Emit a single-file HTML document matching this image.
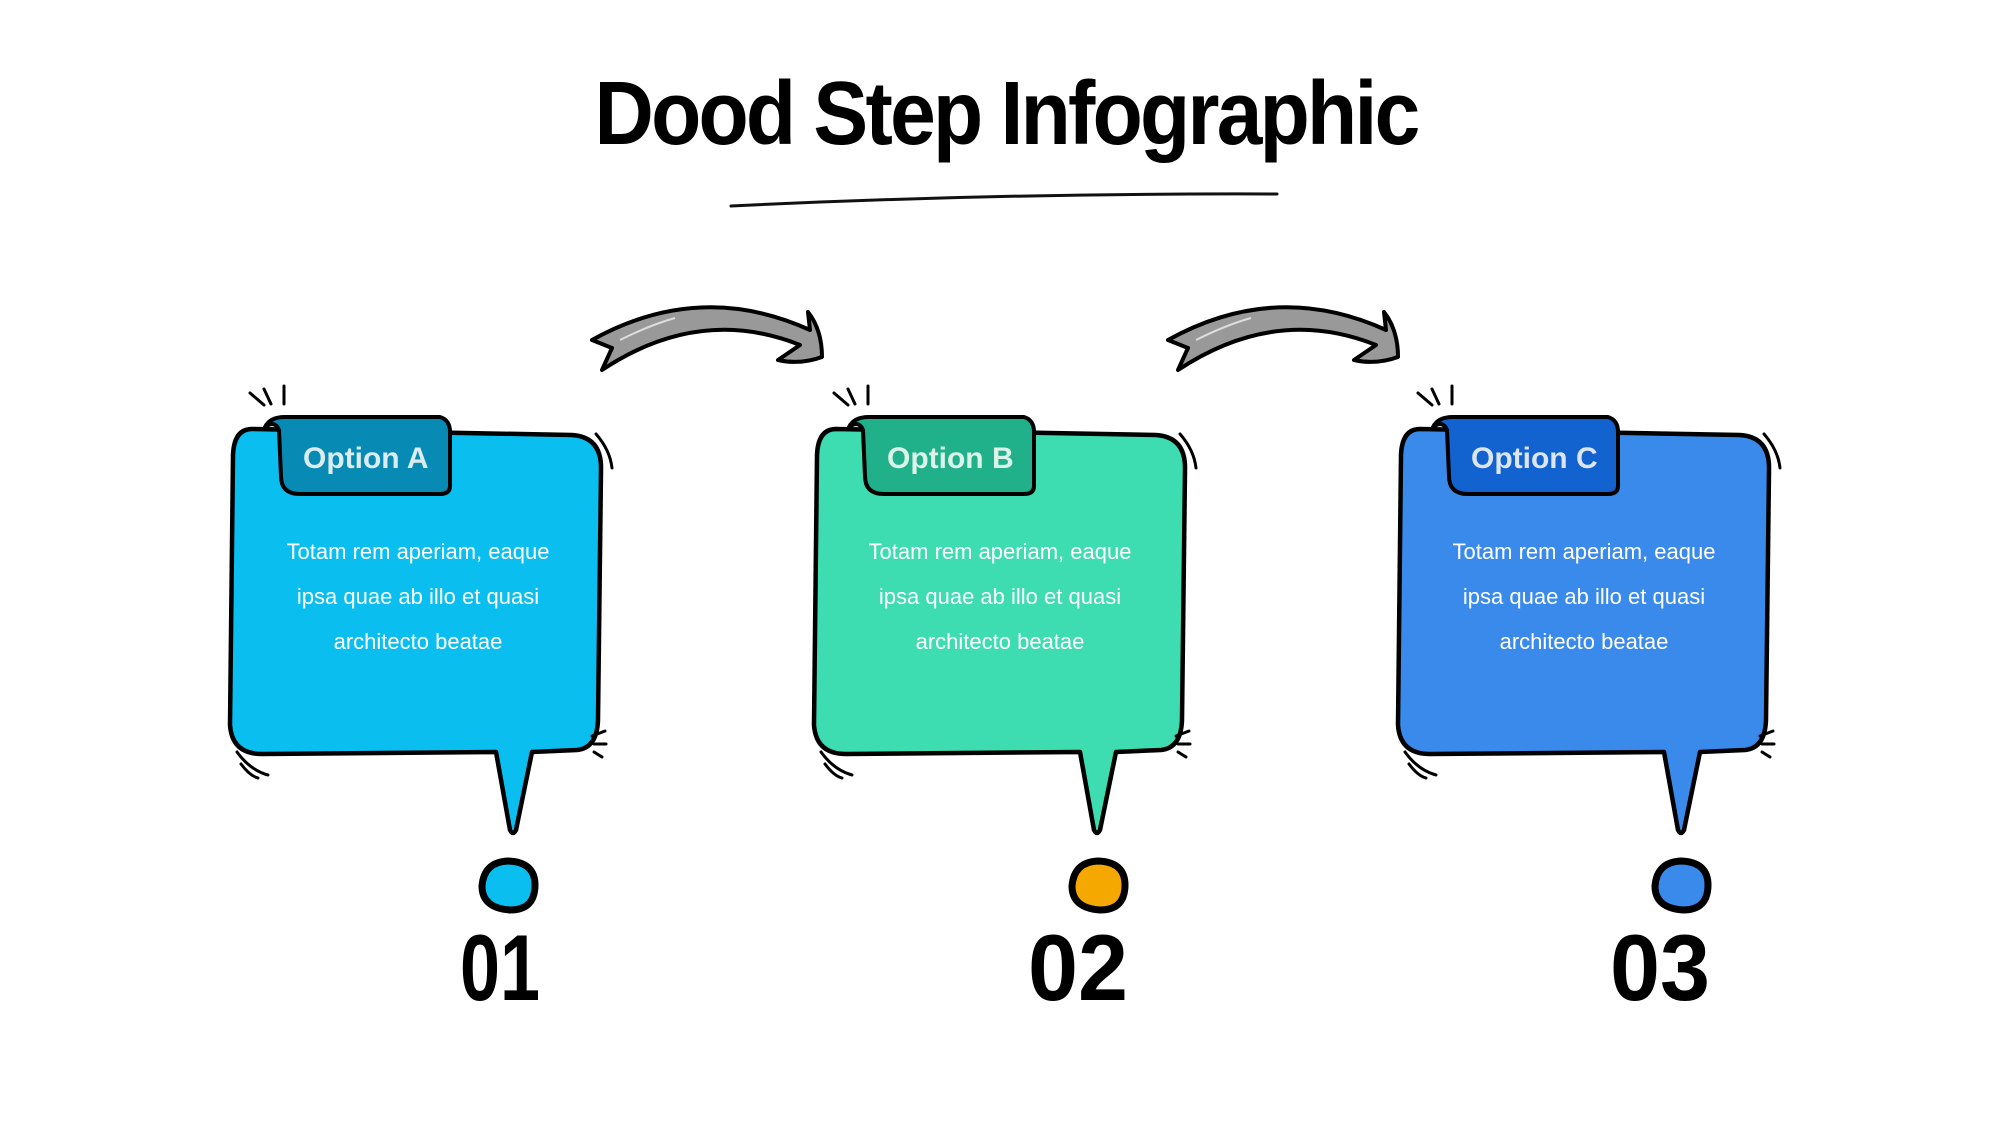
<!DOCTYPE html>
<html><head><meta charset="utf-8"><style>
html,body{margin:0;padding:0;background:#fff;}
svg{display:block}
</style></head><body>
<svg width="2000" height="1125" viewBox="0 0 2000 1125" xmlns="http://www.w3.org/2000/svg" font-family="Liberation Sans, sans-serif">
<text x="1006" y="144" text-anchor="middle" font-size="90" font-weight="bold" fill="#000" letter-spacing="-3" textLength="823" lengthAdjust="spacingAndGlyphs">Dood Step Infographic</text>
<path d="M731,206 Q1000,193 1277,194" stroke="#111" stroke-width="3" fill="none" stroke-linecap="round"/>

<defs>
<g id="arrow">
<path d="M592,340 Q700,280 810,330 L808,312 Q822,330 822,357 Q800,365 778,360 L800,345 Q700,305 602,370 L612,348 Z" fill="#999" stroke="#000" stroke-width="4" stroke-linejoin="round"/>
<path d="M620,340 Q650,325 675,318" stroke="#ddd" stroke-width="2" fill="none"/>
</g>
<g id="marks" stroke="#000" stroke-width="3" fill="none" stroke-linecap="round"><path d="M250,393 L264,405"/><path d="M264,389 L271,404"/><path d="M284,386 L284,404"/><path d="M596,434 Q610,450 612,468"/><path d="M592,736 L605,731"/><path d="M594,744 L606,744"/><path d="M594,752 L602,757"/><path d="M237,752 Q250,770 268,775"/><path d="M241,764 Q250,776 258,778"/></g>
</defs>
<use href="#arrow"/>
<use href="#arrow" x="576"/>

<g>
<path d="M252,429 Q234,429 233,455 L230,725 Q232,754 262,754 L496,752 L510,830 Q513,836 516,830 L532,752 L577,750 Q597,748 598,720 L601,470 Q602,437 572,435 Z" fill="#0abff0" stroke="#000" stroke-width="4.5" stroke-linejoin="round"/>
<path d="M265,427 Q270,417 285,417 L440,417 Q450,420 450,432 L450,486 Q450,494 440,494 L300,494 Q281,494 281,476 L279,430 Q275,420 265,427 Z" fill="#078ab3" stroke="#000" stroke-width="4" stroke-linejoin="round"/>
<text x="303" y="468" font-size="30" font-weight="bold" fill="#dcecf3">Option A</text>
<g fill="#fff" font-size="22" text-anchor="middle"><text x="418" y="559">Totam rem aperiam, eaque</text><text x="418" y="604">ipsa quae ab illo et quasi</text><text x="418" y="649">architecto beatae</text></g>
<path d="M535,885 Q535,910 510,910 Q482,908 482,886 Q484,862 508,861 Q535,862 535,885 Z" fill="#0abff0" stroke="#000" stroke-width="7"/>
<text x="500" y="1000" text-anchor="middle" font-size="94" font-weight="bold" fill="#000" textLength="80" lengthAdjust="spacingAndGlyphs">01</text>
<use href="#marks"/>
</g>

<g transform="translate(584,0)">
<path d="M252,429 Q234,429 233,455 L230,725 Q232,754 262,754 L496,752 L510,830 Q513,836 516,830 L532,752 L577,750 Q597,748 598,720 L601,470 Q602,437 572,435 Z" fill="#3ddcb1" stroke="#000" stroke-width="4.5" stroke-linejoin="round"/>
<path d="M265,427 Q270,417 285,417 L440,417 Q450,420 450,432 L450,486 Q450,494 440,494 L300,494 Q281,494 281,476 L279,430 Q275,420 265,427 Z" fill="#20b08a" stroke="#000" stroke-width="4" stroke-linejoin="round"/>
<text x="303" y="468" font-size="30" font-weight="bold" fill="#dcf3ea">Option B</text>
<g fill="#fff" font-size="22" text-anchor="middle"><text x="416" y="559">Totam rem aperiam, eaque</text><text x="416" y="604">ipsa quae ab illo et quasi</text><text x="416" y="649">architecto beatae</text></g>
<path d="M541,885 Q541,910 516,910 Q488,908 488,886 Q490,862 514,861 Q541,862 541,885 Z" fill="#f5a800" stroke="#000" stroke-width="7"/>
<text x="494" y="1000" text-anchor="middle" font-size="94" font-weight="bold" fill="#000" textLength="100" lengthAdjust="spacingAndGlyphs">02</text>
<use href="#marks"/>
</g>

<g transform="translate(1168,0)">
<path d="M252,429 Q234,429 233,455 L230,725 Q232,754 262,754 L496,752 L510,830 Q513,836 516,830 L532,752 L577,750 Q597,748 598,720 L601,470 Q602,437 572,435 Z" fill="#3a8aec" stroke="#000" stroke-width="4.5" stroke-linejoin="round"/>
<path d="M265,427 Q270,417 285,417 L440,417 Q450,420 450,432 L450,486 Q450,494 440,494 L300,494 Q281,494 281,476 L279,430 Q275,420 265,427 Z" fill="#1262cf" stroke="#000" stroke-width="4" stroke-linejoin="round"/>
<text x="303" y="468" font-size="30" font-weight="bold" fill="#dce6f3">Option C</text>
<g fill="#fff" font-size="22" text-anchor="middle"><text x="416" y="559">Totam rem aperiam, eaque</text><text x="416" y="604">ipsa quae ab illo et quasi</text><text x="416" y="649">architecto beatae</text></g>
<path d="M540,885 Q540,910 515,910 Q487,908 487,886 Q489,862 513,861 Q540,862 540,885 Z" fill="#3a8aec" stroke="#000" stroke-width="7"/>
<text x="492" y="1000" text-anchor="middle" font-size="94" font-weight="bold" fill="#000" textLength="100" lengthAdjust="spacingAndGlyphs">03</text>
<use href="#marks"/>
</g>
</svg>
</body></html>
